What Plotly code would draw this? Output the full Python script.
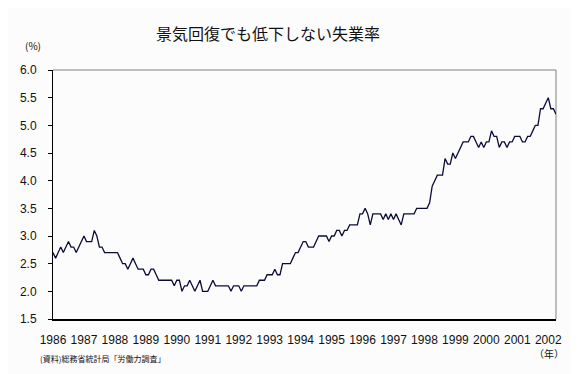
import plotly.graph_objects as go

# Monthly unemployment rate (%), Jan 1986 - Apr 2002
rate_1986 = [2.7, 2.6, 2.7, 2.8, 2.7, 2.8, 2.9, 2.8, 2.8, 2.7, 2.8, 2.9]
rate_1987 = [3.0, 2.9, 2.9, 2.9, 3.1, 3.0, 2.8, 2.8, 2.7, 2.7, 2.7, 2.7]
rate_1988 = [2.7, 2.7, 2.6, 2.5, 2.5, 2.4, 2.5, 2.6, 2.5, 2.4, 2.4, 2.4]
rate_1989 = [2.3, 2.3, 2.4, 2.4, 2.3, 2.2, 2.2, 2.2, 2.2, 2.2, 2.2, 2.1]
rate_1990 = [2.2, 2.2, 2.0, 2.1, 2.1, 2.2, 2.1, 2.0, 2.1, 2.2, 2.0, 2.0]
rate_1991 = [2.0, 2.1, 2.2, 2.1, 2.1, 2.1, 2.1, 2.1, 2.1, 2.0, 2.1, 2.1]
rate_1992 = [2.1, 2.0, 2.1, 2.1, 2.1, 2.1, 2.1, 2.1, 2.2, 2.2, 2.2, 2.3]
rate_1993 = [2.3, 2.3, 2.4, 2.3, 2.3, 2.5, 2.5, 2.5, 2.5, 2.6, 2.7, 2.7]
rate_1994 = [2.8, 2.9, 2.9, 2.8, 2.8, 2.8, 2.9, 3.0, 3.0, 3.0, 3.0, 2.9]
rate_1995 = [3.0, 3.0, 3.1, 3.1, 3.0, 3.1, 3.1, 3.2, 3.2, 3.2, 3.2, 3.4]
rate_1996 = [3.4, 3.5, 3.4, 3.2, 3.4, 3.4, 3.4, 3.4, 3.3, 3.4, 3.3, 3.4]
rate_1997 = [3.3, 3.4, 3.3, 3.2, 3.4, 3.4, 3.4, 3.4, 3.4, 3.5, 3.5, 3.5]
rate_1998 = [3.5, 3.5, 3.6, 3.9, 4.0, 4.1, 4.1, 4.1, 4.4, 4.3, 4.3, 4.5]
rate_1999 = [4.4, 4.5, 4.6, 4.7, 4.7, 4.7, 4.8, 4.8, 4.7, 4.6, 4.7, 4.6]
rate_2000 = [4.7, 4.7, 4.9, 4.8, 4.8, 4.6, 4.7, 4.7, 4.6, 4.7, 4.7, 4.8]
rate_2001 = [4.8, 4.8, 4.7, 4.7, 4.8, 4.8, 4.9, 5.0, 5.0, 5.3, 5.3, 5.4]
rate_2002 = [5.5, 5.3, 5.3, 5.2]

years = [str(y) for y in range(1986, 2003)]
y_ticks = [1.5, 2.0, 2.5, 3.0, 3.5, 4.0, 4.5, 5.0, 5.5, 6.0]
y_tick_text = ["1.5", "2.0", "2.5", "3.0", "3.5", "4.0", "4.5", "5.0", "5.5", "6.0"]

title_text = "景気回復でも低下しない失業率"
unit_y = "(%)"
unit_x = "（年）"
source_text = "(資料)総務省統計局「労働力調査」"

rates = (rate_1986 + rate_1987 + rate_1988 + rate_1989 + rate_1990 + rate_1991 +
         rate_1992 + rate_1993 + rate_1994 + rate_1995 + rate_1996 + rate_1997 +
         rate_1998 + rate_1999 + rate_2000 + rate_2001 + rate_2002)
months = list(range(len(rates)))
year_pos = [12 * k for k in range(len(years))]

num_font = "Arial, Liberation Sans, sans-serif"
jp_font = "Noto Sans CJK JP, sans-serif"

fig = go.Figure()
fig.add_trace(go.Scatter(
    x=months, y=rates, mode="lines",
    line=dict(color="#0b0b3a", width=1.3),
    hoverinfo="skip", showlegend=False,
))

fig.update_layout(
    width=571, height=366,
    margin=dict(l=35, r=23, t=62, b=55),
    paper_bgcolor="#fcfcfc", plot_bgcolor="#fcfcfc",
    showlegend=False,
    xaxis=dict(
        range=[0, len(rates) - 1],
        tickmode="array", tickvals=year_pos, ticktext=years,
        ticks="", showgrid=False, zeroline=False,
        showline=True, linecolor="black", linewidth=2,
        tickfont=dict(family=num_font, size=12, color="#111"),
        ticklabelstandoff=9,
    ),
    yaxis=dict(
        range=[1.5, 6.0],
        tickmode="array", tickvals=y_ticks, ticktext=y_tick_text,
        ticks="outside", ticklen=4, tickcolor="black", tickwidth=1,
        showgrid=False, zeroline=False,
        showline=True, linecolor="black", linewidth=1,
        tickfont=dict(family=num_font, size=12, color="#111"),
        ticklabelstandoff=9,
    ),
    shapes=[
        dict(type="line", xref="paper", yref="paper", x0=0, x1=1, y0=1, y1=1,
             line=dict(color="#808080", width=1), layer="below"),
        dict(type="line", xref="paper", yref="paper", x0=1, x1=1, y0=0, y1=1,
             line=dict(color="#808080", width=1), layer="below"),
    ],
    annotations=[
        dict(text=title_text, xref="paper", yref="paper",
             x=(262 - 43) / 513, y=1 + (70 - 33) / 249,
             xanchor="center", yanchor="middle", showarrow=False,
             font=dict(family=jp_font, size=16, color="#111")),
        dict(text=unit_y, xref="paper", yref="paper",
             x=(12 - 43) / 513, y=1 + (70 - 45) / 249,
             xanchor="left", yanchor="middle", showarrow=False,
             font=dict(family=jp_font, size=10, color="#111")),
        dict(text=unit_x, xref="paper", yref="paper",
             x=(566 - 43) / 513, y=-(353 - 319) / 249,
             xanchor="right", yanchor="middle", showarrow=False,
             font=dict(family=jp_font, size=10, color="#111")),
        dict(text=source_text, xref="paper", yref="paper",
             x=(28 - 43) / 513, y=-(358 - 319) / 249,
             xanchor="left", yanchor="middle", showarrow=False,
             font=dict(family=jp_font, size=8, color="#111")),
    ],
)

fig.write_html("out.html")
